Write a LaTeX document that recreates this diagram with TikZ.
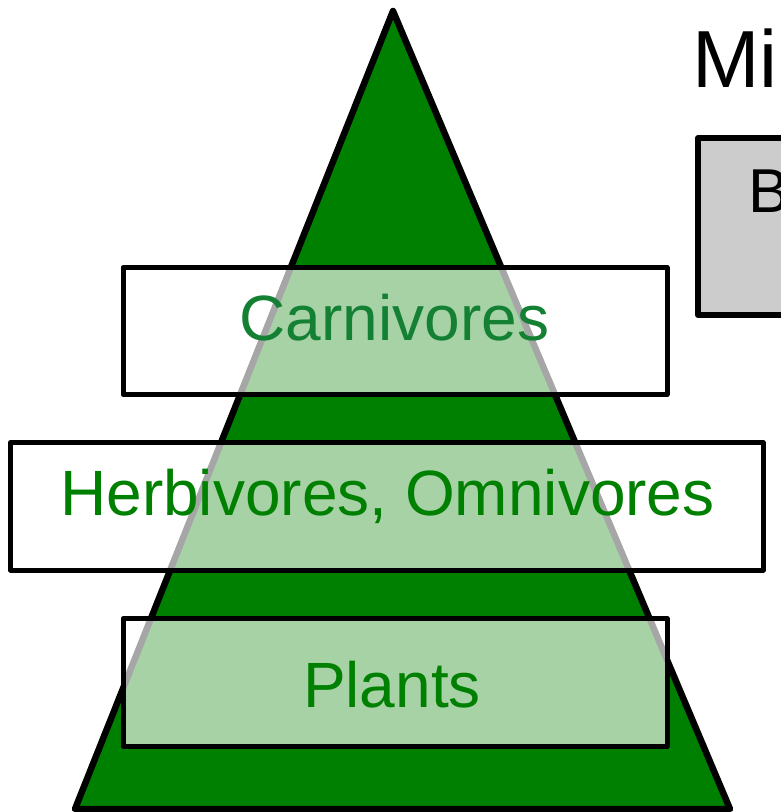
\documentclass[tikz,border=0pt]{standalone}
\usepackage{fontspec}
\setmainfont{Liberation Sans}
\definecolor{tgreen}{RGB}{0,128,0}
\definecolor{cgreen}{RGB}{20,128,52}
\definecolor{boxgray}{RGB}{204,204,204}
\begin{document}
\begin{tikzpicture}[x=1pt,y=-1pt,
  pyr/.style={fill=tgreen,draw=black,line width=6.5pt,line join=round},
  level/.style={draw=black,line width=5pt,fill=white,fill opacity=0.65,line join=round},
  lbl/.style={anchor=base,inner sep=0pt,font=\fontsize{64}{76}\selectfont},
  side/.style={draw=black,line width=6pt,fill=boxgray,line join=round}]
\useasboundingbox (0,0) rectangle (780,812);
\coordinate (apex) at (393,11);
\coordinate (bl) at (75,809);
\coordinate (br) at (730,809);
\draw[pyr] (apex) -- (br) -- (bl) -- cycle;
\draw[side] (790,315) -- (698,315) -- (698,138) -- (790,138);
\node[anchor=base west,inner sep=0pt,font=\fontsize{81}{96}\selectfont] (mi) at (692,87) {Mi};
\node[anchor=base west,inner sep=0pt,font=\fontsize{62}{74}\selectfont] (b) at (748,212) {B};
\draw[level] (123,267.5) rectangle (667,394.5);
\draw[level] (10.5,442.5) rectangle (763,570);
\draw[level] (123,618.5) rectangle (667,746);
\node[lbl,text=cgreen] (carn) at (394.5,340) {Carnivores};
\node[lbl,text=tgreen] (herb) at (387.5,515) {Herbivores, Omnivores};
\node[lbl,text=tgreen] (plants) at (392,707) {Plants};
\end{tikzpicture}
\end{document}
